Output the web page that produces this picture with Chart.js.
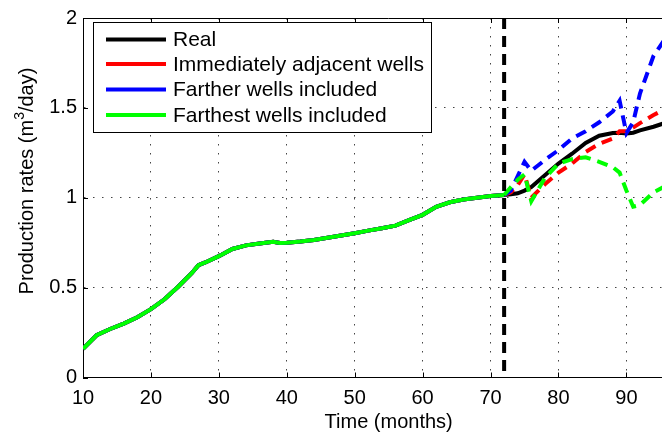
<!DOCTYPE html>
<html>
<head>
<meta charset="utf-8">
<script src="https://cdn.jsdelivr.net/npm/chart.js@4.4.1/dist/chart.umd.min.js"></script>
<style>
  html, body { margin: 0; padding: 0; background: #fff; }
  #wrap { width: 662px; height: 436px; overflow: hidden; position: relative; }
  #chart { display: block; }
</style>
</head>
<body>
<div id="wrap"><canvas id="chart" width="720" height="436"></canvas></div>
<script>
// history (shared by all curves up to month 72)
var histMonths = [10, 12, 14, 16, 18, 20, 22, 24, 26, 27, 28, 30, 32, 34, 36, 38, 39, 40, 42, 44, 46, 48, 50, 52, 54, 56, 58, 60, 62, 64, 66, 68, 70, 72];
var histRates  = [0.16, 0.235, 0.27, 0.30, 0.335, 0.38, 0.435, 0.505, 0.58, 0.625, 0.64, 0.675, 0.715, 0.735, 0.745, 0.755, 0.748, 0.75, 0.756, 0.765, 0.777, 0.79, 0.803, 0.817, 0.83, 0.845, 0.875, 0.905, 0.95, 0.975, 0.99, 1.0, 1.01, 1.015];

// forecast period
var splitMonth = 72;
var fcMonths   = [72, 73, 74, 75, 76, 78, 80, 82, 84, 86, 88, 89, 90, 91, 92, 94, 96];
var realRates  = [1.015, 1.02, 1.025, 1.04, 1.06, 1.125, 1.19, 1.245, 1.305, 1.345, 1.36, 1.362, 1.358, 1.362, 1.375, 1.395, 1.42];
var adjRates   = [1.015, 1.03, 1.07, 1.13, 1.0, 1.075, 1.14, 1.19, 1.255, 1.30, 1.33, 1.37, 1.37, 1.39, 1.415, 1.46, 1.5];
var fartherRates  = [1.015, 1.04, 1.12, 1.2, 1.15, 1.21, 1.265, 1.33, 1.37, 1.42, 1.48, 1.54, 1.36, 1.42, 1.58, 1.79, 1.9];
var farthestRates = [1.015, 1.06, 1.1, 1.13, 0.98, 1.11, 1.19, 1.215, 1.225, 1.2, 1.17, 1.14, 1.04, 0.95, 0.96, 1.03, 1.07];

var labels = ['Real', 'Immediately adjacent wells', 'Farther wells included', 'Farthest wells included'];
var colors = ['#000000', '#ff0000', '#0000ff', '#00ff00'];

var yTicks = [0, 0.5, 1, 1.5, 2];

function buildPoints(forecast) {
  var pts = [];
  for (var i = 0; i < histMonths.length; i++) pts.push({x: histMonths[i], y: histRates[i]});
  for (var j = 1; j < fcMonths.length; j++) pts.push({x: fcMonths[j], y: forecast[j]});
  return pts;
}

var fontFam = "'Liberation Sans', Arial, Helvetica, sans-serif";
Chart.defaults.font.family = fontFam;
Chart.defaults.color = '#000';

var dashAfterSplit = function(c) {
  return c.p0.parsed.x >= splitMonth ? [11, 7] : undefined;
};

var series = [realRates, adjRates, fartherRates, farthestRates];
var datasets = series.map(function(s, i) {
  return {
    label: labels[i],
    data: buildPoints(s),
    borderColor: colors[i],
    borderWidth: 4,
    pointRadius: 0,
    tension: 0,
    order: 3 - i,
    segment: i === 0 ? {} : { borderDash: dashAfterSplit }
  };
});

// box, inward ticks, split line, legend, y title
var decorations = {
  id: 'decorations',
  beforeDatasetsDraw: function(chart) {
    var ctx = chart.ctx, a = chart.chartArea;
    var xs = chart.scales.x, ys = chart.scales.y;
    ctx.save();
    ctx.strokeStyle = '#000';
    ctx.lineWidth = 1;
    ctx.beginPath();
    ctx.moveTo(a.left, a.top + 0.5);
    ctx.lineTo(a.right, a.top + 0.5);
    for (var v = 10; v <= 100; v += 10) {
      var px = Math.round(xs.getPixelForValue(v)) + 0.5;
      ctx.moveTo(px, a.bottom); ctx.lineTo(px, a.bottom - 5);
      ctx.moveTo(px, a.top); ctx.lineTo(px, a.top + 5);
    }
    yTicks.forEach(function(t) {
      var py = Math.round(ys.getPixelForValue(t)) + 0.5;
      ctx.moveTo(a.left, py); ctx.lineTo(a.left + 5, py);
    });
    ctx.stroke();
    ctx.restore();
  },
  afterDatasetsDraw: function(chart) {
    var ctx = chart.ctx, a = chart.chartArea;
    var xs = chart.scales.x;
    ctx.save();
    // split line
    var sx = xs.getPixelForValue(splitMonth);
    ctx.strokeStyle = '#000';
    ctx.lineWidth = 4;
    ctx.setLineDash([11, 7]);
    ctx.beginPath();
    ctx.moveTo(sx, a.top);
    ctx.lineTo(sx, a.bottom);
    ctx.stroke();
    ctx.setLineDash([]);

    // legend
    ctx.fillStyle = '#fff';
    ctx.fillRect(93, 22, 338, 110);
    ctx.strokeStyle = '#000';
    ctx.lineWidth = 1;
    ctx.strokeRect(93.5, 22.5, 338, 110);
    ctx.font = '21px ' + fontFam;
    ctx.textBaseline = 'middle';
    ctx.textAlign = 'left';
    var rowsY = [39.5, 64, 89.5, 115];
    for (var i = 0; i < labels.length; i++) {
      ctx.strokeStyle = colors[i];
      ctx.lineWidth = 4;
      ctx.beginPath();
      ctx.moveTo(106, rowsY[i]);
      ctx.lineTo(166, rowsY[i]);
      ctx.stroke();
      ctx.fillStyle = '#000';
      ctx.fillText(labels[i], 173, rowsY[i] + 1);
    }

    // y axis title with superscript
    ctx.translate(27, 181);
    ctx.rotate(-Math.PI / 2);
    var p1 = 'Production rates (m', p2 = '3', p3 = '/day)';
    ctx.font = '20px ' + fontFam;
    var w1 = ctx.measureText(p1).width, w3 = ctx.measureText(p3).width;
    ctx.font = '14px ' + fontFam;
    var w2 = ctx.measureText(p2).width;
    var x0 = -(w1 + w2 + w3) / 2;
    ctx.fillStyle = '#000';
    ctx.font = '20px ' + fontFam;
    ctx.fillText(p1, x0, 0);
    ctx.font = '14px ' + fontFam;
    ctx.fillText(p2, x0 + w1, -7);
    ctx.font = '20px ' + fontFam;
    ctx.fillText(p3, x0 + w1 + w2, 0);
    ctx.restore();
  }
};

new Chart(document.getElementById('chart'), {
  type: 'line',
  data: { datasets: datasets },
  plugins: [decorations],
  options: {
    responsive: false,
    animation: false,
    devicePixelRatio: 1,
    layout: { padding: { top: 11, right: 20, left: 0, bottom: 0 } },
    plugins: { legend: { display: false }, tooltip: { enabled: false } },
    scales: {
      x: {
        type: 'linear',
        min: 10,
        max: 100,
        afterFit: function(s) { s.height = 58.5; },
        ticks: { stepSize: 10, font: { size: 20 }, color: '#000', padding: 9, maxRotation: 0 },
        grid: { color: '#444', lineWidth: 1, drawTicks: false },
        border: { color: '#000', width: 1, dash: [1.5, 7.5] },
        title: { display: true, text: 'Time (months)', font: { size: 20 }, color: '#000', padding: { top: 0, bottom: 2 } }
      },
      y: {
        min: 0,
        max: 2,
        afterFit: function(s) { s.width = 83; },
        ticks: { stepSize: 0.5, font: { size: 20 }, color: '#000', padding: 6,
                 callback: function(v) { return String(v); } },
        grid: { color: '#444', lineWidth: 1, drawTicks: false },
        border: { color: '#000', width: 1, dash: [1.5, 7.5] }
      }
    }
  }
});
</script>
</body>
</html>
